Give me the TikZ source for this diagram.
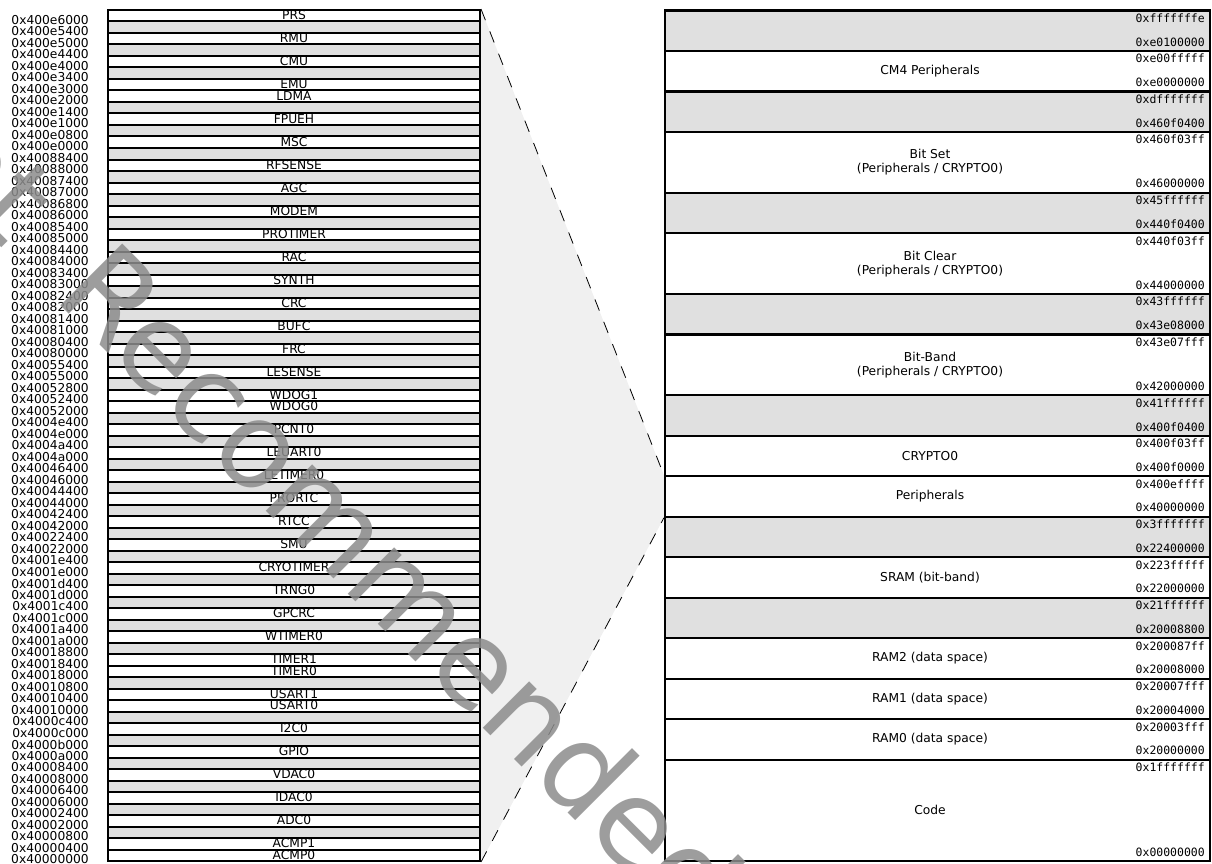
\documentclass[tikz,border=0pt]{standalone}
\usepackage{fontspec}
\setmainfont{DejaVu Sans}
\setmonofont{DejaVu Sans Mono}
\usetikzlibrary{backgrounds}
\definecolor{rsvdfill}{RGB}{224,224,224}
\definecolor{zoomfill}{RGB}{240,240,240}
\definecolor{wmgray}{RGB}{140,140,140}
\begin{document}
\begin{tikzpicture}[x=0.75pt, y=-0.75pt, font=\fontsize{9.2}{10.5}\selectfont]
  \tikzset{
    lrow/.style={draw, line width=1.5pt, minimum width=279pt, minimum height=8.625pt, inner sep=0pt},
    rrow/.style={draw, line width=1.7pt, minimum width=408.75pt, inner sep=0pt},
    inuse/.style={fill=white},
    rsvd/.style={fill=rsvdfill},
    laddr/.style={anchor=east, inner sep=0pt},
    raddr/.style={anchor=east, inner sep=0pt, font=\ttfamily\fontsize{8.6}{10}\selectfont},
    rname/.style={align=center, inner sep=0pt},
    zoomline/.style={dash pattern=on 9pt off 9pt, line width=0.6pt},
    wmark/.style={text=wmgray, text opacity=0.85, font=\fontsize{90}{90}\selectfont}
  }
  \useasboundingbox (0,0) rectangle (1212,863);

  % peripheral map (left)
  \foreach \adr/\lbl/\kind [count=\i from 0] in {
    400e6000/PRS/inuse, 400e5400//rsvd, 400e5000/RMU/inuse, 400e4400//rsvd,
    400e4000/CMU/inuse, 400e3400//rsvd, 400e3000/EMU/inuse, 400e2000/LDMA/inuse,
    400e1400//rsvd, 400e1000/FPUEH/inuse, 400e0800//rsvd, 400e0000/MSC/inuse,
    40088400//rsvd, 40088000/RFSENSE/inuse, 40087400//rsvd, 40087000/AGC/inuse,
    40086800//rsvd, 40086000/MODEM/inuse, 40085400//rsvd, 40085000/PROTIMER/inuse,
    40084400//rsvd, 40084000/RAC/inuse, 40083400//rsvd, 40083000/SYNTH/inuse,
    40082400//rsvd, 40082000/CRC/inuse, 40081400//rsvd, 40081000/BUFC/inuse,
    40080400//rsvd, 40080000/FRC/inuse, 40055400//rsvd, 40055000/LESENSE/inuse,
    40052800//rsvd, 40052400/WDOG1/inuse, 40052000/WDOG0/inuse, 4004e400//rsvd,
    4004e000/PCNT0/inuse, 4004a400//rsvd, 4004a000/LEUART0/inuse, 40046400//rsvd,
    40046000/LETIMER0/inuse, 40044400//rsvd, 40044000/PRORTC/inuse, 40042400//rsvd,
    40042000/RTCC/inuse, 40022400//rsvd, 40022000/SMU/inuse, 4001e400//rsvd,
    4001e000/CRYOTIMER/inuse, 4001d400//rsvd, 4001d000/TRNG0/inuse, 4001c400//rsvd,
    4001c000/GPCRC/inuse, 4001a400//rsvd, 4001a000/WTIMER0/inuse, 40018800//rsvd,
    40018400/TIMER1/inuse, 40018000/TIMER0/inuse, 40010800//rsvd, 40010400/USART1/inuse,
    40010000/USART0/inuse, 4000c400//rsvd, 4000c000/I2C0/inuse, 4000b000//rsvd,
    4000a000/GPIO/inuse, 40008400//rsvd, 40008000/VDAC0/inuse, 40006400//rsvd,
    40006000/IDAC0/inuse, 40002400//rsvd, 40002000/ADC0/inuse, 40000800//rsvd,
    40000400/ACMP1/inuse, 40000000/ACMP0/inuse} {
    \node[lrow, \kind] (l\i) at (294, {15.75+11.5*\i}) {};
    \node[inner sep=0pt] (lt\i) at (294, {15.25+11.5*\i}) {\lbl};
    \node[laddr] (la\i) at (89, {20+11.5*\i}) {0x\adr};
  }

  % memory map (right)
  \foreach \ytop/\h/\kind/\lbl/\hi/\lo [count=\j from 0] in {
    10.5/40.5/rsvd//fffffffe/e0100000,
    51/40.5/inuse/CM4 Peripherals/e00fffff/e0000000,
    91.5/40.5/rsvd//dfffffff/460f0400,
    132/60.75/inuse/{Bit Set\\(Peripherals / CRYPTO0)}/460f03ff/46000000,
    192.75/40.5/rsvd//45ffffff/440f0400,
    233.25/60.75/inuse/{Bit Clear\\(Peripherals / CRYPTO0)}/440f03ff/44000000,
    294/40.5/rsvd//43ffffff/43e08000,
    334.5/60.75/inuse/{Bit-Band\\(Peripherals / CRYPTO0)}/43e07fff/42000000,
    395.25/40.5/rsvd//41ffffff/400f0400,
    435.75/40.5/inuse/CRYPTO0/400f03ff/400f0000,
    476.25/40.5/inuse/Peripherals/400effff/40000000,
    516.75/40.5/rsvd//3fffffff/22400000,
    557.25/40.5/inuse/SRAM (bit-band)/223fffff/22000000,
    597.75/40.5/rsvd//21ffffff/20008800,
    638.25/40.5/inuse/RAM2 (data space)/200087ff/20008000,
    678.75/40.5/inuse/RAM1 (data space)/20007fff/20004000,
    719.25/40.5/inuse/RAM0 (data space)/20003fff/20000000,
    759.75/101.25/inuse/Code/1fffffff/00000000} {
    \node[rrow, \kind, minimum height=\h*0.75pt] (r\j) at (937.5, {\ytop+\h/2}) {};
    \node[rname] (rt\j) at (930, {\ytop+\h/2}) {\lbl};
    \node[raddr] (rh\j) at (1205, {\ytop+7.5}) {0x\hi};
    \node[raddr] (rl\j) at (1205, {\ytop+\h-9}) {0x\lo};
  }

  % zoom onto the peripheral region
  \begin{scope}[on background layer]
    \fill[zoomfill] (l0.north east) -- (r10.north west) -- (r10.south west) -- (l73.south east) -- cycle;
  \end{scope}
  \draw[zoomline] (l0.north east) -- (r10.north west);
  \draw[zoomline] (l73.south east) -- (r10.south west);

  \node[wmark, rotate=-45] (wm) at (304,486) {Not\hspace{0.25em} Recommended};
\end{tikzpicture}
\end{document}
